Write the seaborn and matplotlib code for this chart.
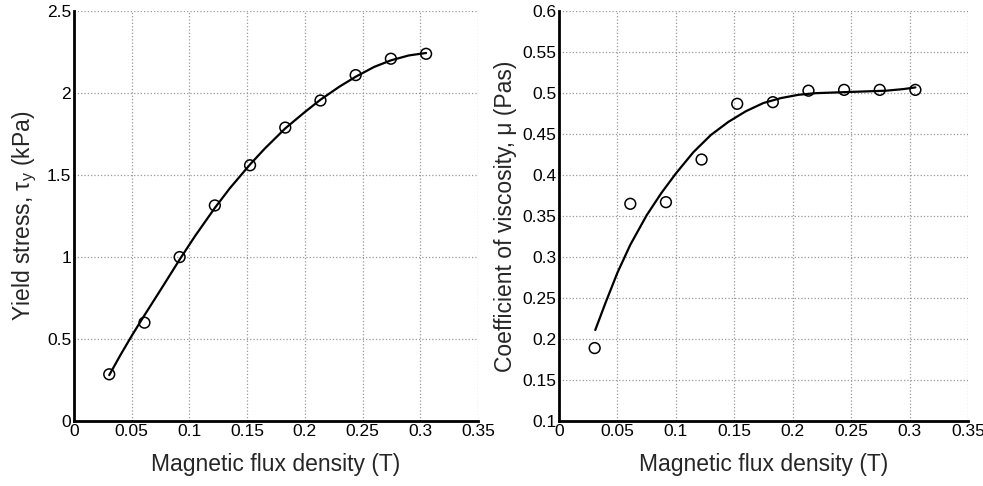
import numpy as np
import pandas as pd
import matplotlib
matplotlib.use("Agg")
import matplotlib.pyplot as plt
import seaborn as sns
from matplotlib.ticker import FuncFormatter

# measured points
flux = [0.0305, 0.061, 0.0915, 0.122, 0.1525, 0.183, 0.2135, 0.244, 0.2745, 0.305]
yield_stress = [0.285, 0.60, 1.00, 1.315, 1.56, 1.79, 1.955, 2.11, 2.21, 2.24]
viscosity = [0.189, 0.365, 0.367, 0.419, 0.487, 0.489, 0.503, 0.504, 0.504, 0.504]

# fitted curves
fit_flux_ys = [0.0305, 0.04, 0.05, 0.061, 0.075, 0.0915, 0.105, 0.122, 0.135, 0.1525,
               0.165, 0.183, 0.2, 0.2135, 0.23, 0.244, 0.26, 0.2745, 0.29, 0.305]
fit_ys = [0.28, 0.40, 0.52, 0.645, 0.80, 0.985, 1.13, 1.30, 1.42, 1.565,
          1.66, 1.785, 1.885, 1.96, 2.04, 2.10, 2.16, 2.20, 2.23, 2.245]

fit_flux_mu = [0.031, 0.04, 0.05, 0.061, 0.075, 0.0875, 0.1, 0.115, 0.13, 0.145,
               0.16, 0.175, 0.19, 0.205, 0.22, 0.24, 0.26, 0.28, 0.295, 0.305]
fit_mu = [0.211, 0.245, 0.281, 0.315, 0.351, 0.378, 0.402, 0.428, 0.449, 0.465,
          0.478, 0.488, 0.494, 0.498, 0.500, 0.501, 0.502, 0.503, 0.505, 0.507]

sns.set_style("white")
plt.rcParams['font.family'] = ['Liberation Sans', 'DejaVu Sans']
plt.rcParams['mathtext.fontset'] = 'custom'
plt.rcParams['mathtext.rm'] = 'Liberation Sans'
plt.rcParams['mathtext.it'] = 'Liberation Sans'

fig = plt.figure(figsize=(9.83, 4.86), dpi=100)
ax1 = fig.add_axes([0.0753, 0.1337, 0.411, 0.8433])
ax2 = fig.add_axes([0.5687, 0.1337, 0.416, 0.8433])

pts = pd.DataFrame({'B': flux, 'tau': yield_stress, 'mu': viscosity})
fit1 = pd.DataFrame({'B': fit_flux_ys, 'tau': fit_ys})
fit2 = pd.DataFrame({'B': fit_flux_mu, 'mu': fit_mu})

def style_axes(ax, ylim, yticks):
    ax.set_xlim(0, 0.35)
    ax.set_ylim(*ylim)
    ax.set_xticks(np.arange(0, 0.351, 0.05))
    ax.set_yticks(yticks)
    fmt = FuncFormatter(lambda v, p: '%g' % round(v, 3))
    ax.xaxis.set_major_formatter(fmt)
    ax.yaxis.set_major_formatter(fmt)
    ax.grid(True, color='#999999', linestyle=':', linewidth=0.9)
    for s in ['top', 'right']:
        ax.spines[s].set_visible(False)
    for s in ['left', 'bottom']:
        ax.spines[s].set_linewidth(2)
        ax.spines[s].set_color('black')
    ax.tick_params(direction='in', length=3, width=1, labelsize=12.5, colors='black', pad=2)
    ax.set_xlabel('Magnetic flux density (T)', fontsize=16.5, labelpad=10)

sns.lineplot(data=fit1, x='B', y='tau', ax=ax1, color='black', linewidth=1.6, sort=False)
sns.scatterplot(data=pts, x='B', y='tau', ax=ax1, marker='o', s=60,
                facecolor='none', edgecolor='black', linewidth=1.1, zorder=3)
style_axes(ax1, (0, 2.5), np.arange(0, 2.51, 0.5))
ax1.set_ylabel('Yield stress, τ$_\\mathregular{y}$ (kPa)', fontsize=16.5, labelpad=6)

sns.lineplot(data=fit2, x='B', y='mu', ax=ax2, color='black', linewidth=1.6, sort=False)
sns.scatterplot(data=pts, x='B', y='mu', ax=ax2, marker='o', s=60,
                facecolor='none', edgecolor='black', linewidth=1.1, zorder=3)
style_axes(ax2, (0.1, 0.6), np.arange(0.1, 0.601, 0.05))
ax2.set_ylabel('Coefficient of viscosity, μ (Pas)', fontsize=16.5, labelpad=4)

fig.savefig('out.png', dpi=100)
